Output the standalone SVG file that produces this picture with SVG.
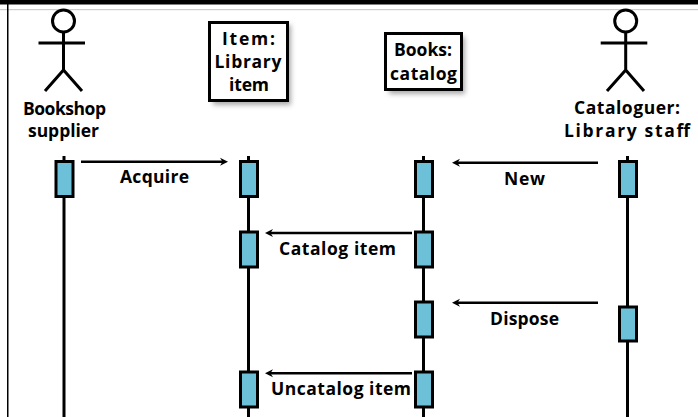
<svg xmlns="http://www.w3.org/2000/svg" width="698" height="417" viewBox="0 0 698 417">
<defs>
<marker id="ah" markerWidth="10" markerHeight="10" refX="4" refY="5" orient="auto" markerUnits="userSpaceOnUse"><path d="M8 5 L0 1 L2.500 5 L0 9z" fill="#000"/></marker>
<filter id="sh" x="-20%" y="-20%" width="150%" height="150%"><feGaussianBlur stdDeviation="2.5"/></filter>
</defs>
<style>
text{font-family:"Open Sans","Noto Sans","DejaVu Sans",sans-serif;font-weight:700;font-size:17.5px;fill:#000;text-anchor:middle}
.life{stroke:#000;stroke-width:3;fill:none}
.msg{stroke:#000;stroke-width:2.5;fill:none}
.act{fill:#6cc0d8;stroke:#000;stroke-width:3}
.box{fill:#fff;stroke:#000;stroke-width:3}
.shadow{fill:#aaa;filter:url(#sh)}
.actor{fill:none;stroke:#000;stroke-width:3}
</style>
<rect width="698" height="417" fill="#fff"/>
<rect x="0" y="0" width="698" height="4.500" fill="#000"/>
<rect x="0" y="9" width="698" height="1.200" fill="#ccc"/>
<rect x="7" y="0" width="1.500" height="417" fill="#000"/>
<g id="connectors">
<path class="life" d="M64 156V417M248.500 156V417M423.500 156V417M627.500 156V417"/>
<path class="msg" d="M81 161.700H224" marker-end="url(#ah)"/>
<path class="msg" d="M598 162.700H456" marker-end="url(#ah)"/>
<path class="msg" d="M412 233H269" marker-end="url(#ah)"/>
<path class="msg" d="M598 302.700H456" marker-end="url(#ah)"/>
<path class="msg" d="M412 373.300H269" marker-end="url(#ah)"/>
</g>
<g id="bookshop-supplier">
<circle class="actor" cx="63.500" cy="21" r="11"/>
<path class="actor" d="M38.500 43H85M63.500 32V70M63.500 70L45 91M63.500 70L82 91"/>
<text x="64.500" y="115" textLength="83">Bookshop</text><text x="63.500" y="137" textLength="71">supplier</text>
</g>
<g id="item">
<rect class="shadow" x="213" y="25" width="78" height="80"/>
<rect class="box" x="209.500" y="22.500" width="78" height="78"/>
<text x="248.500" y="45" textLength="53">Item:</text><text x="248" y="68" textLength="67">Library</text><text x="249" y="91" textLength="40">item</text>
</g>
<g id="books-catalog">
<rect class="shadow" x="389" y="37" width="76" height="57"/>
<rect class="box" x="385.500" y="33.500" width="76" height="56"/>
<text x="423" y="56" textLength="58">Books:</text><text x="423.500" y="80" textLength="67">catalog</text>
</g>
<g id="cataloguer">
<circle class="actor" cx="625.700" cy="21" r="11"/>
<path class="actor" d="M600.700 43H647.300M625.700 32V70M625.700 70L607 91M625.700 70L644 91"/>
<text x="627" y="114" textLength="106">Cataloguer:</text><text x="627" y="137" textLength="126">Library staff</text>
</g>
<g id="activations">
<rect class="act" x="56" y="161.500" width="17" height="35"/>
<rect class="act" x="240.500" y="161.500" width="17" height="35"/>
<rect class="act" x="415.500" y="161.500" width="17" height="35"/>
<rect class="act" x="619.500" y="161.500" width="17" height="35"/>
<rect class="act" x="240.500" y="232" width="17" height="35"/>
<rect class="act" x="415.500" y="232" width="17" height="35"/>
<rect class="act" x="415.500" y="302" width="17" height="35"/>
<rect class="act" x="619.500" y="307" width="17" height="34"/>
<rect class="act" x="240.500" y="372" width="17" height="35"/>
<rect class="act" x="415.500" y="372" width="17" height="35"/>
</g>
<g id="labels">
<text x="154.500" y="183" textLength="69">Acquire</text>
<text x="524.500" y="185" textLength="41">New</text>
<text x="337.500" y="255" textLength="117">Catalog item</text>
<text x="524.500" y="325" textLength="69">Dispose</text>
<text x="341" y="395" textLength="140">Uncatalog item</text>
</g>
</svg>
